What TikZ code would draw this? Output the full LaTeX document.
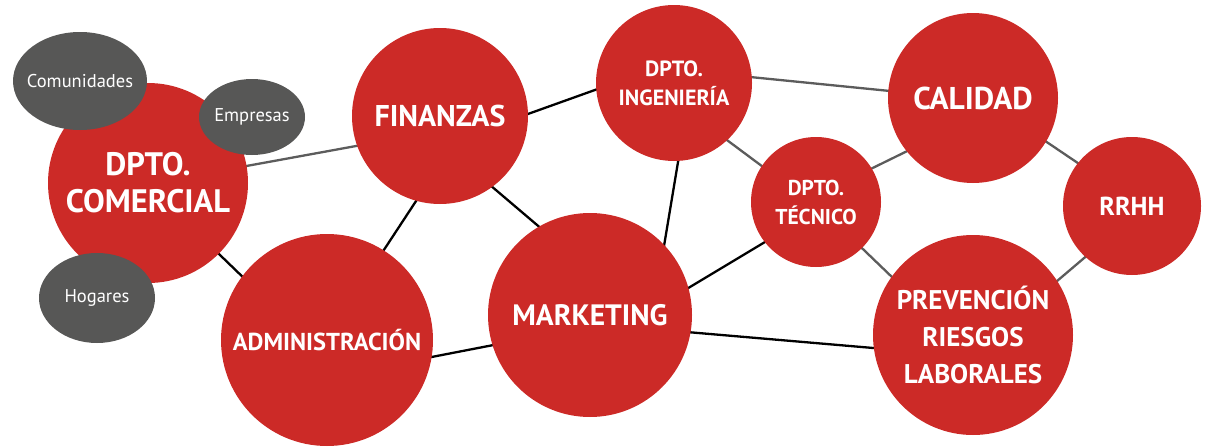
\documentclass[tikz,border=0pt]{standalone}
\usepackage{fontspec}
\setmainfont{PT Sans}
\usetikzlibrary{shapes.geometric,calc,backgrounds}
\definecolor{dred}{HTML}{CC2A27}
\definecolor{dgray}{HTML}{575756}
\definecolor{lgray}{HTML}{5C5C5C}
\begin{document}
\begin{tikzpicture}[x=1pt,y=-1pt,
  dept/.style={circle,fill=dred,text=white,inner sep=0pt,align=center},
  seg/.style={ellipse,fill=dgray,text=white,inner sep=0pt,font=\fontsize{18.5}{22}\selectfont},
  blk/.style={line width=2.3pt,black},
  gry/.style={line width=2.3pt,lgray}]
\useasboundingbox (0,0) rectangle (1213,447);
% departments
\node[dept,minimum size=200pt,font=\fontsize{32.5}{37}\selectfont\bfseries] (com) at (148,183) {DPTO.\\COMERCIAL};
\node[dept,minimum size=176pt,font=\fontsize{30}{36}\selectfont\bfseries] (fin) at (440,116) {FINANZAS};
\node[dept,minimum size=212pt,font=\fontsize{24.5}{28}\selectfont\bfseries] (adm) at (327,340) {ADMINISTRACIÓN};
\node[dept,minimum size=204pt,font=\fontsize{29.5}{34}\selectfont\bfseries] (mkt) at (590,315) {MARKETING};
\node[dept,minimum size=156pt,font=\fontsize{22}{29}\selectfont\bfseries] (ing) at (674,83) {DPTO.\\INGENIERÍA};
\node[dept,minimum size=130pt,font=\fontsize{21.5}{29}\selectfont\bfseries] (tec) at (816,202) {DPTO.\\TÉCNICO};
\node[dept,minimum size=170pt,font=\fontsize{31.5}{36}\selectfont\bfseries] (cal) at (973,98) {CALIDAD};
\node[dept,minimum size=138pt,font=\fontsize{26}{31}\selectfont\bfseries] (rrhh) at (1132,206) {RRHH};
\node[dept,minimum size=200pt,font=\fontsize{27}{37}\selectfont\bfseries] (prv) at (973,335) {PREVENCIÓN\\RIESGOS\\LABORALES};
% segments
\node[seg,minimum width=134pt,minimum height=98pt] (comu) at (80,81) {\makebox[0pt]{Comunidades}};
\node[seg,minimum width=106pt,minimum height=76pt] (emp) at (252,117) {\makebox[0pt]{Empresas}};
\node[seg,minimum width=116pt,minimum height=90pt] (hog) at (97,298) {\makebox[0pt]{Hogares}};
% connectors
\begin{pgfonlayer}{background}
\draw[gry] ($(com)+(60,-10)$) -- ($(fin)+(-40,22)$);
\draw[blk] ($(com)+(42,43)$) -- ($(adm)+(-47,-27)$);
\draw[blk] ($(fin)+(3,44)$) -- ($(adm)+(24,-40)$);
\draw[blk] ($(fin)+(30,52)$) -- ($(mkt)+(-20,-62)$);
\draw[blk] ($(fin)+(60,8)$) -- ($(ing)+(-54,-2)$);
\draw[blk] ($(ing)+(11,37)$) -- ($(mkt)+(70,-45)$);
\draw[blk] ($(adm)+(53,27)$) -- ($(mkt)+(-50,21)$);
\draw[blk] ($(mkt)+(60,-4)$) -- ($(tec)+(-26,25)$);
\draw[blk] ($(mkt)+(50,13)$) -- ($(prv)+(-53,17)$);
\draw[gry] ($(ing)+(46,-9)$) -- ($(cal)+(-53,-4)$);
\draw[gry] ($(ing)+(26,37)$) -- ($(tec)+(-26,-15)$);
\draw[gry] ($(tec)+(24,-18)$) -- ($(cal)+(-33,37)$);
\draw[gry] ($(tec)+(24,25)$) -- ($(prv)+(-53,-31)$);
\draw[gry] ($(cal)+(47,26)$) -- ($(rrhh)+(-32,-28)$);
\draw[gry] ($(rrhh)+(-22,30)$) -- ($(prv)+(57,-31)$);
\end{pgfonlayer}
\end{tikzpicture}
\end{document}
